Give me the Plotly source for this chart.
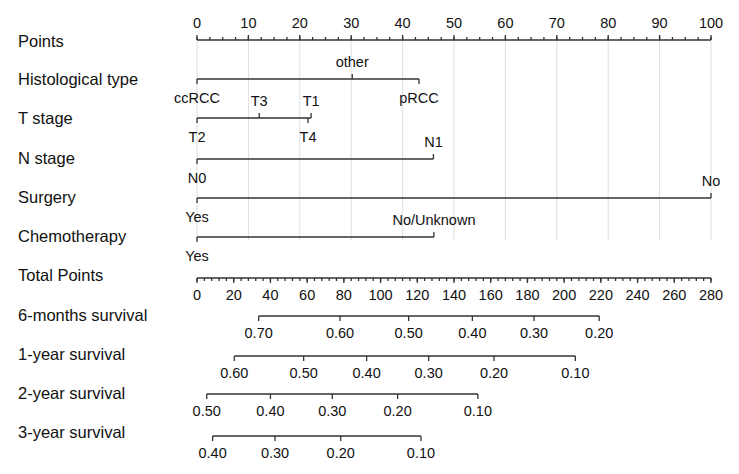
import numpy as np
import plotly.graph_objects as go

# nomogram scales
points_ticks = list(range(0, 101, 10))
total_ticks = list(range(0, 281, 20))

hist_levels = ["ccRCC", "other", "pRCC"]
hist_points = [0, 30.2, 43.2]
t_levels = ["T2", "T3", "T4", "T1"]
t_points = [0, 12.1, 21.6, 22.2]
n_levels = ["N0", "N1"]
n_points = [0, 46.0]
surg_levels = ["Yes", "No"]
surg_points = [0, 100]
chemo_levels = ["Yes", "No/Unknown"]
chemo_points = [0, 46.1]

# survival probability ticks, positioned on the Total Points scale
surv6_labels = ["0.70", "0.60", "0.50", "0.40", "0.30", "0.20"]
surv6_total = [33.6, 77.9, 115.3, 150.0, 183.6, 219.1]
surv1_labels = ["0.60", "0.50", "0.40", "0.30", "0.20", "0.10"]
surv1_total = [20.3, 58.1, 92.4, 126.2, 161.8, 206.1]
surv2_labels = ["0.50", "0.40", "0.30", "0.20", "0.10"]
surv2_total = [5.3, 40.0, 73.7, 109.3, 153.0]
surv3_labels = ["0.40", "0.30", "0.20", "0.10"]
surv3_total = [8.5, 42.5, 78.3, 122.0]

row_names = ["Points", "Histological type", "T stage", "N stage", "Surgery",
             "Chemotherapy", "Total Points", "6-months survival",
             "1-year survival", "2-year survival", "3-year survival"]

# page is 739x474, body margin of 8px around the figure
PAGE_W, PAGE_H, OFF = 739, 474, 8
W, H = PAGE_W - 2 * OFF, PAGE_H - 2 * OFF
LINE = "#333333"
FONT = "Liberation Sans, Arial, sans-serif"
row_y = [40, 79, 118, 159, 198, 237, 278, 316, 356, 394, 436]
label_y = [41, 79, 118, 158, 197, 236, 275, 315, 354, 393, 432]

# page x pixel 197 -> 0 points, 711 -> 100 points
x0_px, x1_px = 197 - OFF, 711 - OFF
pad = 2
ppu = (x1_px - x0_px) / 100
dom = [(x0_px - pad * ppu) / W, (x1_px + pad * ppu) / W]

fig = go.Figure()


def seg_trace(xs, ys, xaxis="x", width=1.3, color=LINE):
    fig.add_trace(go.Scatter(x=xs, y=ys, mode="lines", xaxis=xaxis, yaxis="y",
                             line=dict(color=color, width=width),
                             hoverinfo="skip", showlegend=False))


def text_trace(xs, ys, labels, xaxis="x", size=14.5):
    fig.add_trace(go.Scatter(x=xs, y=ys, mode="text", text=labels, xaxis=xaxis, yaxis="y",
                             textposition="middle center", cliponaxis=False,
                             textfont=dict(family=FONT, size=size, color="#111111"),
                             hoverinfo="skip", showlegend=False))


# light grid lines
gx, gy = [], []
for v in points_ticks:
    gx += [v, v, None]
    gy += [row_y[0], 240, None]
seg_trace(gx, gy, width=1, color="#dedede")


def axis_row(y, lo, hi, major, minor, up, xaxis):
    d = -1 if up else 1
    xs, ys = [lo, hi, None], [y, y, None]
    for v in minor:
        xs += [v, v, None]
        ys += [y, y + d * 3, None]
    for v in major:
        xs += [v, v, None]
        ys += [y, y + d * 5, None]
    seg_trace(xs, ys, xaxis=xaxis)
    text_trace(major, [y + (-16 if up else 18)] * len(major), [str(v) for v in major], xaxis=xaxis)


def var_row(y, pts, labels):
    order = np.argsort(pts)
    xs, ys = [min(pts), max(pts), None], [y, y, None]
    tx, ty, tl = [], [], []
    for k, i in enumerate(order):
        up = k % 2 == 1
        xs += [pts[i], pts[i], None]
        ys += [y, y - 5 if up else y + 5, None]
        tx.append(pts[i])
        ty.append(y - 16 if up else y + 20)
        tl.append(labels[i])
    seg_trace(xs, ys)
    text_trace(tx, ty, tl)


def prob_row(y, totals, labels):
    xs, ys = [min(totals), max(totals), None], [y, y, None]
    for v in totals:
        xs += [v, v, None]
        ys += [y, y + 5, None]
    seg_trace(xs, ys, xaxis="x2")
    text_trace(totals, [y + 18] * len(totals), labels, xaxis="x2")


axis_row(row_y[0], 0, 100, points_ticks, list(np.arange(0, 100.01, 2.5)), True, "x")
var_row(row_y[1], hist_points, hist_levels)
var_row(row_y[2], t_points, t_levels)
var_row(row_y[3], n_points, n_levels)
var_row(row_y[4], surg_points, surg_levels)
var_row(row_y[5], chemo_points, chemo_levels)
axis_row(row_y[6], 0, 280, total_ticks, list(range(0, 281, 4)), False, "x2")
prob_row(row_y[7], surv6_total, surv6_labels)
prob_row(row_y[8], surv1_total, surv1_labels)
prob_row(row_y[9], surv2_total, surv2_labels)
prob_row(row_y[10], surv3_total, surv3_labels)

for name, yy in zip(row_names, label_y):
    fig.add_annotation(text=name, x=(16 - OFF) / W, xref="paper", y=yy, yref="y",
                       xanchor="left", yanchor="middle", showarrow=False,
                       font=dict(family=FONT, size=16.5, color="#111111"))

fig.update_layout(
    width=W, height=H,
    margin=dict(l=0, r=0, t=0, b=0),
    paper_bgcolor="white", plot_bgcolor="white",
    xaxis=dict(domain=dom, range=[-pad, 100 + pad], visible=False, fixedrange=True),
    xaxis2=dict(domain=dom, range=[-pad * 2.8, 280 + pad * 2.8], overlaying="x",
                visible=False, fixedrange=True),
    yaxis=dict(domain=[0, 1], range=[OFF + H, OFF], visible=False, fixedrange=True),
)

fig.write_html("out.html")
